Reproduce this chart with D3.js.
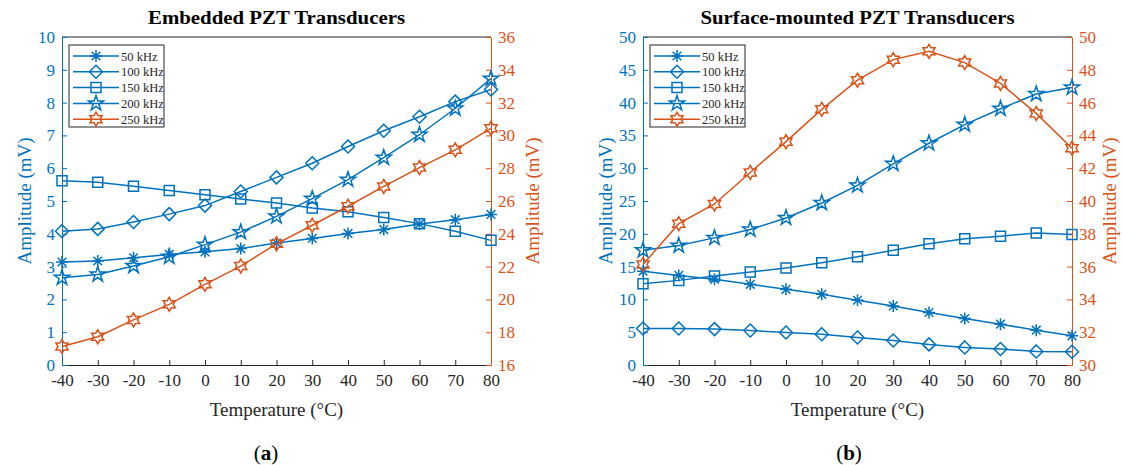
<!DOCTYPE html>
<html>
<head>
<meta charset="utf-8">
<script src="https://cdn.jsdelivr.net/npm/d3@7"></script>
<style>
  body { margin: 0; background: #fff; }
  text { font-family: "Liberation Serif", "Times New Roman", serif; }
</style>
</head>
<body>
<div id="chart"></div>
<script>
var svgWidth = 1122;
var svgHeight = 465;

// data
var temps = [-40, -30, -20, -10, 0, 10, 20, 30, 40, 50, 60, 70, 80];
var freqLabels = ["50 kHz", "100 kHz", "150 kHz", "200 kHz", "250 kHz"];

// embedded PZT (left axis mV, 250 kHz on right axis)
var emb50 = [3.14, 3.17, 3.27, 3.37, 3.45, 3.55, 3.72, 3.86, 4.01, 4.13, 4.30, 4.43, 4.59];
var emb100 = [4.08, 4.15, 4.36, 4.60, 4.86, 5.29, 5.72, 6.15, 6.66, 7.14, 7.57, 8.03, 8.40];
var emb150 = [5.62, 5.57, 5.45, 5.32, 5.19, 5.06, 4.94, 4.79, 4.67, 4.50, 4.31, 4.08, 3.80];
var emb200 = [2.66, 2.76, 3.02, 3.30, 3.67, 4.05, 4.53, 5.07, 5.65, 6.32, 7.02, 7.82, 8.73];
var emb250 = [17.13, 17.72, 18.75, 19.70, 20.92, 22.03, 23.39, 24.52, 25.68, 26.89, 28.04, 29.12, 30.43];

// surface-mounted PZT
var sur50 = [14.3, 13.66, 13.06, 12.3, 11.54, 10.78, 9.87, 9.0, 8.0, 7.09, 6.22, 5.31, 4.45];
var sur100 = [5.57, 5.57, 5.47, 5.26, 4.96, 4.70, 4.20, 3.74, 3.14, 2.68, 2.43, 2.07, 2.02];
var sur150 = [12.4, 12.9, 13.56, 14.17, 14.78, 15.59, 16.5, 17.5, 18.47, 19.23, 19.64, 20.14, 19.89];
var sur200 = [17.5, 18.2, 19.38, 20.65, 22.42, 24.7, 27.38, 30.67, 33.8, 36.64, 39.07, 41.3, 42.3];
var sur250 = [36.13, 38.62, 39.82, 41.74, 43.62, 45.59, 47.37, 48.62, 49.13, 48.44, 47.17, 45.34, 43.22];

var blue = "#0072BD";
var orange = "#D95319";
var dark = "#262626";
var markers = ["asterisk", "diamond", "square", "pentagram", "hexagram"];

// marker shapes (matlab style, unfilled)
function markerPath(type) {
  var p = d3.path(), i, a, r;
  if (type === "asterisk") {
    r = 6;
    p.moveTo(-r, 0); p.lineTo(r, 0);
    p.moveTo(0, -r); p.lineTo(0, r);
    var q = r * 0.72;
    p.moveTo(-q, -q); p.lineTo(q, q);
    p.moveTo(-q, q); p.lineTo(q, -q);
  } else if (type === "diamond") {
    r = 6.5;
    p.moveTo(0, -r); p.lineTo(r, 0); p.lineTo(0, r); p.lineTo(-r, 0); p.closePath();
  } else if (type === "square") {
    r = 5;
    p.rect(-r, -r, 2 * r, 2 * r);
  } else if (type === "pentagram") {
    r = 8;
    for (i = 0; i < 10; i++) {
      a = -Math.PI / 2 + i * Math.PI / 5;
      var rr = i % 2 === 0 ? r : r * 0.382;
      if (i === 0) p.moveTo(rr * Math.cos(a), rr * Math.sin(a));
      else p.lineTo(rr * Math.cos(a), rr * Math.sin(a));
    }
    p.closePath();
  } else {
    r = 7;
    for (i = 0; i < 12; i++) {
      a = -Math.PI / 2 + i * Math.PI / 6;
      var rh = i % 2 === 0 ? r : r * 0.577;
      if (i === 0) p.moveTo(rh * Math.cos(a), rh * Math.sin(a));
      else p.lineTo(rh * Math.cos(a), rh * Math.sin(a));
    }
    p.closePath();
  }
  return p.toString();
}

var svg = d3.select("#chart")
  .append("svg")
  .attr("width", svgWidth)
  .attr("height", svgHeight);

function drawPanel(cfg) {
  var x = d3.scaleLinear().domain([-40, 80]).range([cfg.left, cfg.right]);
  var yL = d3.scaleLinear().domain(cfg.leftDomain).range([365, 37]);
  var yR = d3.scaleLinear().domain(cfg.rightDomain).range([365, 37]);
  var g = svg.append("g");

  // top box line
  g.append("line")
    .attr("x1", cfg.left).attr("x2", cfg.right)
    .attr("y1", 37).attr("y2", 37)
    .attr("stroke", dark).attr("stroke-width", 1);

  // bottom axis
  var xAxis = g.append("g")
    .attr("transform", "translate(0,365)")
    .call(d3.axisBottom(x).tickValues(temps).tickSize(-5).tickPadding(9).tickSizeOuter(0));
  xAxis.select(".domain").attr("stroke", dark);
  xAxis.selectAll(".tick line").attr("stroke", dark);
  xAxis.selectAll("text").attr("fill", dark).style("font-size", "17px").text(d => d);

  // left axis
  var lAxis = g.append("g")
    .attr("transform", `translate(${cfg.left},0)`)
    .call(d3.axisLeft(yL).tickValues(cfg.leftTicks).tickSize(-5).tickPadding(7).tickSizeOuter(0));
  lAxis.select(".domain").attr("stroke", blue);
  lAxis.selectAll(".tick line").attr("stroke", blue);
  lAxis.selectAll("text").attr("fill", blue).style("font-size", "17px");

  // right axis
  var rAxis = g.append("g")
    .attr("transform", `translate(${cfg.right},0)`)
    .call(d3.axisRight(yR).tickValues(cfg.rightTicks).tickSize(-5).tickPadding(7).tickSizeOuter(0));
  rAxis.select(".domain").attr("stroke", orange);
  rAxis.selectAll(".tick line").attr("stroke", orange);
  rAxis.selectAll("text").attr("fill", orange).style("font-size", "17px");

  // series
  cfg.series.forEach(function(vals, k) {
    var ys = k === 4 ? yR : yL;
    var col = k === 4 ? orange : blue;
    var line = d3.line().x((d, i) => x(temps[i])).y(d => ys(d));
    g.append("path")
      .datum(vals)
      .attr("d", line)
      .attr("fill", "none")
      .attr("stroke", col)
      .attr("stroke-width", 1.5);
    g.selectAll(".m" + k)
      .data(vals)
      .enter()
      .append("path")
      .attr("transform", (d, i) => `translate(${x(temps[i])},${ys(d)})`)
      .attr("d", markerPath(markers[k]))
      .attr("fill", "none")
      .attr("stroke", col)
      .attr("stroke-width", 1.5);
  });

  // legend
  var lg = g.append("g").attr("transform", `translate(${cfg.left + 7},45)`);
  lg.append("rect")
    .attr("width", 95).attr("height", 82)
    .attr("fill", "#fff").attr("stroke", dark).attr("stroke-width", 1);
  freqLabels.forEach(function(lab, k) {
    var col = k === 4 ? orange : blue;
    var yy = 11 + k * 15.8;
    lg.append("line")
      .attr("x1", 4).attr("x2", 50).attr("y1", yy).attr("y2", yy)
      .attr("stroke", col).attr("stroke-width", 1.5);
    lg.append("path")
      .attr("transform", `translate(27,${yy})`)
      .attr("d", markerPath(markers[k]))
      .attr("fill", "none").attr("stroke", col).attr("stroke-width", 1.5);
    lg.append("text")
      .attr("x", 52).attr("y", yy + 4.5)
      .attr("fill", dark)
      .style("font-size", "12.5px")
      .text(lab);
  });

  var cx = (cfg.left + cfg.right) / 2;
  // title
  g.append("text")
    .attr("x", cx).attr("y", 24)
    .attr("text-anchor", "middle")
    .attr("fill", "#000")
    .attr("font-weight", "bold")
    .attr("textLength", cfg.titleWidth)
    .attr("lengthAdjust", "spacingAndGlyphs")
    .style("font-size", "18px")
    .text(cfg.title);

  // axis labels
  g.append("text")
    .attr("x", cx).attr("y", 416)
    .attr("text-anchor", "middle")
    .attr("fill", dark)
    .style("font-size", "19px")
    .text("Temperature (°C)");

  g.append("text")
    .attr("transform", `translate(${cfg.left - 31},201) rotate(-90)`)
    .attr("text-anchor", "middle")
    .attr("fill", blue)
    .style("font-size", "19px")
    .text("Amplitude (mV)");

  g.append("text")
    .attr("transform", `translate(${cfg.right + cfg.rLabelGap},201) rotate(-90)`)
    .attr("text-anchor", "middle")
    .attr("fill", orange)
    .style("font-size", "19px")
    .text("Amplitude (mV)");

  // panel letter
  var lt = g.append("text")
    .attr("x", cfg.letterX).attr("y", 460)
    .attr("text-anchor", "middle")
    .attr("fill", "#000")
    .style("font-size", "21px");
  lt.append("tspan").text("(");
  lt.append("tspan").attr("font-weight", "bold").text(cfg.letter);
  lt.append("tspan").text(")");
}

drawPanel({
  left: 62, right: 491,
  leftDomain: [0, 10], rightDomain: [16, 36],
  leftTicks: d3.range(0, 11, 1), rightTicks: d3.range(16, 37, 2),
  series: [emb50, emb100, emb150, emb200, emb250],
  title: "Embedded PZT Transducers", titleWidth: 257,
  rLabelGap: 48,
  letter: "a", letterX: 266
});

drawPanel({
  left: 643, right: 1072,
  leftDomain: [0, 50], rightDomain: [30, 50],
  leftTicks: d3.range(0, 51, 5), rightTicks: d3.range(30, 51, 2),
  series: [sur50, sur100, sur150, sur200, sur250],
  title: "Surface-mounted PZT Transducers", titleWidth: 314,
  rLabelGap: 44,
  letter: "b", letterX: 849
});
</script>
</body>
</html>
